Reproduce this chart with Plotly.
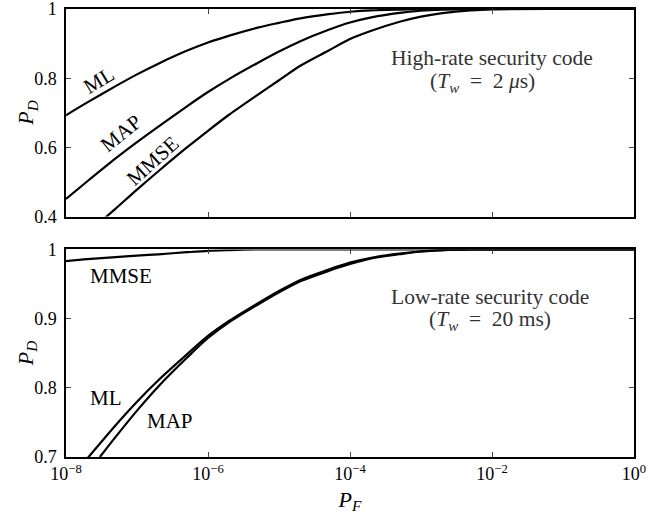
import plotly.graph_objects as go
from plotly.subplots import make_subplots

# ---- data ----
pf_grid = [1e-8, 2e-8, 5e-8, 1e-7, 2e-7, 5e-7, 1e-6, 2e-6, 5e-6, 1e-5, 2e-5, 5e-5,
           1e-4, 2e-4, 5e-4, 1e-3, 2e-3, 5e-3, 1e-2, 1e-1, 1.0]

# High-rate security code (top)
top_ml = [0.693, 0.730, 0.777, 0.811, 0.842, 0.879, 0.903, 0.923, 0.946, 0.960, 0.973, 0.985,
          0.992, 0.996, 0.998, 0.999, 1.0, 1.0, 1.0, 1.0, 1.0]
top_map = [0.451, 0.502, 0.568, 0.615, 0.660, 0.718, 0.760, 0.798, 0.844, 0.877, 0.907, 0.940,
           0.961, 0.976, 0.989, 0.995, 0.998, 1.0, 1.0, 1.0, 1.0]
top_mmse_pf = [3e-8, 5e-8, 1e-7, 2e-7, 5e-7, 1e-6, 2e-6, 5e-6, 1e-5, 2e-5, 5e-5,
               1e-4, 2e-4, 5e-4, 1e-3, 2e-3, 5e-3, 1e-2, 1e-1, 1.0]
top_mmse = [0.383, 0.423, 0.478, 0.531, 0.599, 0.648, 0.695, 0.752, 0.794, 0.836, 0.880,
            0.913, 0.937, 0.963, 0.978, 0.988, 0.996, 0.999, 1.0, 1.0]

# Low-rate security code (bottom)
bot_mmse = [0.983, 0.986, 0.989, 0.991, 0.993, 0.996, 0.998, 0.999, 1.0, 1.0, 1.0, 1.0,
            1.0, 1.0, 1.0, 1.0, 1.0, 1.0, 1.0, 1.0, 1.0]
bot_ml_pf = [2e-8, 5e-8, 1e-7, 2e-7, 5e-7, 1e-6, 2e-6, 5e-6, 1e-5, 2e-5, 5e-5,
             1e-4, 2e-4, 5e-4, 1e-3, 2e-3, 5e-3, 1e-2, 1e-1, 1.0]
bot_ml = [0.698, 0.746, 0.780, 0.811, 0.848, 0.875, 0.897, 0.922, 0.940, 0.956, 0.971,
          0.981, 0.988, 0.994, 0.997, 0.999, 1.0, 1.0, 1.0, 1.0]
bot_map_pf = [3e-8, 5e-8, 1e-7, 2e-7, 5e-7, 1e-6, 2e-6, 5e-6, 1e-5, 2e-5, 5e-5,
              1e-4, 2e-4, 5e-4, 1e-3, 2e-3, 5e-3, 1e-2, 1e-1, 1.0]
bot_map = [0.700, 0.729, 0.767, 0.802, 0.843, 0.872, 0.895, 0.920, 0.938, 0.954, 0.969,
           0.979, 0.987, 0.993, 0.997, 0.999, 1.0, 1.0, 1.0, 1.0]

x_tickvals = [1e-8, 1e-6, 1e-4, 1e-2, 1.0]
x_ticktext = ["10<sup>−8</sup>", "10<sup>−6</sup>", "10<sup>−4</sup>", "10<sup>−2</sup>", "10<sup>0</sup>"]
top_yticks = [0.4, 0.6, 0.8, 1.0]
top_yticktext = ["0.4", "0.6", "0.8", "1"]
bot_yticks = [0.7, 0.8, 0.9, 1.0]
bot_yticktext = ["0.7", "0.8", "0.9", "1"]

SERIF = "Liberation Serif, Times New Roman, serif"
line = dict(color="black", width=2.2, shape="spline", smoothing=0.8)

fig = make_subplots(rows=2, cols=1, vertical_spacing=0.07)
fig.add_trace(go.Scatter(x=pf_grid, y=top_ml, mode="lines", line=line), row=1, col=1)
fig.add_trace(go.Scatter(x=pf_grid, y=top_map, mode="lines", line=line), row=1, col=1)
fig.add_trace(go.Scatter(x=top_mmse_pf, y=top_mmse, mode="lines", line=line), row=1, col=1)
fig.add_trace(go.Scatter(x=pf_grid, y=bot_mmse, mode="lines", line=line), row=2, col=1)
fig.add_trace(go.Scatter(x=bot_ml_pf, y=bot_ml, mode="lines", line=line), row=2, col=1)
fig.add_trace(go.Scatter(x=bot_map_pf, y=bot_map, mode="lines", line=line), row=2, col=1)

axis_common = dict(showline=True, linecolor="black", linewidth=1.5, mirror="ticks",
                   ticks="inside", ticklen=5, tickcolor="#444", tickwidth=1,
                   showgrid=False, zeroline=False, automargin=False,
                   ticklabeloverflow="allow",
                   tickfont=dict(family=SERIF, size=18, color="black"))

fig.update_xaxes(type="log", range=[-8, 0], tickvals=x_tickvals, ticktext=x_ticktext, **axis_common)
fig.update_xaxes(showticklabels=False, row=1, col=1)
fig.update_xaxes(title=dict(text="<i>P<sub>F</sub></i>", font=dict(family=SERIF, size=22, color="black"),
                            standoff=8), row=2, col=1)
fig.update_yaxes(range=[0.4, 1.0], tickvals=top_yticks, ticktext=top_yticktext, ticklabelstandoff=4,
                 row=1, col=1, **axis_common)
fig.update_yaxes(range=[0.7, 1.0], tickvals=bot_yticks, ticktext=bot_yticktext, ticklabelstandoff=4,
                 row=2, col=1, **axis_common)

TOP_DOM = [0.5367, 1.0]
BOT_DOM = [0.0, 0.4633]
fig.update_layout(yaxis=dict(domain=TOP_DOM), yaxis2=dict(domain=BOT_DOM))

lab = dict(family=SERIF, size=21, color="black")
ann = dict(family=SERIF, size=21.5, color="#333")
ttl = dict(family=SERIF, size=22, color="black")
annotations = [
    dict(x=-7.53, y=0.795, xref="x", yref="y", text="ML", textangle=-31, font=lab),
    dict(x=-7.22, y=0.642, xref="x", yref="y", text="MAP", textangle=-39, font=lab),
    dict(x=-6.78, y=0.560, xref="x", yref="y", text="MMSE", textangle=-42, font=lab),
    dict(x=-2.0, y=0.859, xref="x", yref="y", text="High-rate security code", font=ann),
    dict(x=-2.14, y=0.787, xref="x", yref="y",
         text="(<i>T<sub>w</sub></i>\u2002=\u20022 <i>μ</i>s)", font=ann),
    dict(x=-7.22, y=0.961, xref="x2", yref="y2", text="MMSE", font=lab),
    dict(x=-7.435, y=0.786, xref="x2", yref="y2", text="ML", font=lab),
    dict(x=-6.53, y=0.752, xref="x2", yref="y2", text="MAP", font=lab),
    dict(x=-2.03, y=0.931, xref="x2", yref="y2", text="Low-rate security code", font=ann),
    dict(x=-2.03, y=0.897, xref="x2", yref="y2",
         text="(<i>T<sub>w</sub></i>\u2002=\u200220 ms)", font=ann),
    # y-axis titles
    dict(x=-0.0687, y=sum(TOP_DOM) / 2, xref="paper", yref="paper", text="<i>P<sub>D</sub></i>",
         textangle=-90, font=ttl, xanchor="center", yanchor="middle"),
    dict(x=-0.0687, y=sum(BOT_DOM) / 2, xref="paper", yref="paper", text="<i>P<sub>D</sub></i>",
         textangle=-90, font=ttl, xanchor="center", yanchor="middle"),
]
for a in annotations:
    a["showarrow"] = False
fig.update_layout(annotations=annotations)

fig.update_layout(width=672, height=521, showlegend=False,
                  margin=dict(l=66, r=38, t=9, b=64),
                  plot_bgcolor="white", paper_bgcolor="white")

# remove the page's default body margin so the figure sits at the window origin
fig.write_html("out.html", config={"displayModeBar": False},
               post_script="document.body.style.margin='0px';")
